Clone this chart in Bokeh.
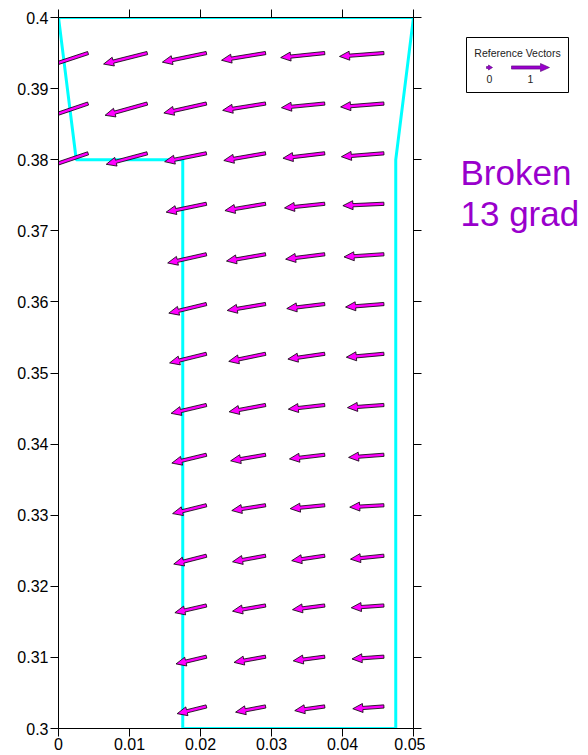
import math
from bokeh.plotting import figure
from bokeh.models import Range1d, FixedTicker, LinearAxis
from bokeh.layouts import row
from bokeh.embed import file_html
from bokeh.resources import INLINE
from bokeh.core.properties import value

# ---------------- data ----------------
x_ticks = [0.0, 0.01, 0.02, 0.03, 0.04, 0.05]
x_tick_labels = ["0", "0.01", "0.02", "0.03", "0.04", "0.05"]
y_ticks = [0.3, 0.31, 0.32, 0.33, 0.34, 0.35, 0.36, 0.37, 0.38, 0.39, 0.4]
y_tick_labels = ["0.3", "0.31", "0.32", "0.33", "0.34", "0.35", "0.36",
                 "0.37", "0.38", "0.39", "0.4"]

# domain boundary (cyan outline)
boundary_x = [0.0, 0.0025, 0.0175, 0.0175, 0.0475, 0.0475, 0.05, 0.0]
boundary_y = [0.4, 0.38, 0.38, 0.3, 0.3, 0.38, 0.4, 0.4]

# vector grid (tail positions)
col_x = [0.004167, 0.0125, 0.020833, 0.029167, 0.0375, 0.045833]
row_y = [0.3950, 0.3879, 0.3809, 0.3738, 0.3667, 0.3597, 0.3527,
         0.3455, 0.3385, 0.3314, 0.3243, 0.3173, 0.3101, 0.3031]

N = None
u_rows = [
    [-1.15, -1.15, -1.16, -1.16, -1.16, -1.17],
    [-1.12, -1.11, -1.12, -1.13, -1.14, -1.14],
    [-1.09, -1.08, -1.10, -1.10, -1.10, -1.12],
    [N, N, -1.06, -1.07, -1.06, -1.08],
    [N, N, -1.02, -1.03, -1.03, -1.05],
    [N, N, -0.99, -1.01, -1.00, -1.01],
    [N, N, -0.97, -0.97, -0.97, -0.99],
    [N, N, -0.93, -0.96, -0.96, -0.96],
    [N, N, -0.91, -0.92, -0.93, -0.93],
    [N, N, -0.89, -0.89, -0.91, -0.90],
    [N, N, -0.86, -0.87, -0.87, -0.88],
    [N, N, -0.83, -0.87, -0.85, -0.86],
    [N, N, -0.80, -0.83, -0.83, -0.84],
    [N, N, -0.77, -0.79, -0.79, -0.82],
]
v_rows = [
    [-0.38, -0.29, -0.24, -0.19, -0.12, -0.09],
    [-0.38, -0.31, -0.25, -0.18, -0.11, -0.09],
    [-0.37, -0.29, -0.22, -0.19, -0.13, -0.09],
    [N, N, -0.22, -0.18, -0.11, -0.05],
    [N, N, -0.23, -0.18, -0.13, -0.07],
    [N, N, -0.24, -0.17, -0.12, -0.08],
    [N, N, -0.24, -0.20, -0.14, -0.09],
    [N, N, -0.22, -0.18, -0.11, -0.07],
    [N, N, -0.22, -0.16, -0.11, -0.07],
    [N, N, -0.22, -0.14, -0.09, -0.05],
    [N, N, -0.22, -0.16, -0.13, -0.09],
    [N, N, -0.19, -0.15, -0.11, -0.06],
    [N, N, -0.19, -0.15, -0.11, -0.06],
    [N, N, -0.19, -0.15, -0.11, -0.06],
]

ref_vector_values = [0, 1]
ref_vector_labels = ["0", "1"]
legend_title = "Reference Vectors"
note_lines = ["Broken", "13 grad"]

vector_scale = 0.00535   # x data units per velocity unit

# ---------------- layout / style ----------------
FRAME_W, FRAME_H = 355, 711
B_L, B_R, B_T, B_B = 58, 12, 17, 27
W1 = B_L + FRAME_W + B_R
H = B_T + FRAME_H + B_B
W2 = 588 - W1

FONT = "Liberation Sans"
CYAN = "#00ffff"
MAGENTA = "#ff00ff"
PURPLE = "#9900cc"

x0r, x1r = 0.0, 0.05
y0r, y1r = 0.3, 0.4
sx = FRAME_W / (x1r - x0r)
sy = FRAME_H / (y1r - y0r)
L = vector_scale * sx   # px per velocity unit


def arrow_px(X0, Y0, dx, dy, shaft=1.6, head_len=10.0, head_half=4.5):
    ln = math.hypot(dx, dy)
    ux, uy = dx / ln, dy / ln
    nx, ny = -uy, ux
    tx, ty = X0 + dx, Y0 + dy
    bx, by = tx - ux * head_len, ty - uy * head_len
    pts = [(X0 + nx * shaft, Y0 + ny * shaft),
           (bx + nx * shaft, by + ny * shaft),
           (bx + nx * head_half, by + ny * head_half),
           (tx, ty),
           (bx - nx * head_half, by - ny * head_half),
           (bx - nx * shaft, by - ny * shaft),
           (X0 - nx * shaft, Y0 - ny * shaft)]
    return [q[0] for q in pts], [q[1] for q in pts]


p = figure(width=W1, height=H,
           x_range=Range1d(x0r, x1r), y_range=Range1d(y0r, y1r),
           output_backend="svg", toolbar_location=None,
           x_axis_location=None, y_axis_location=None,
           min_border_left=B_L, min_border_right=B_R,
           min_border_top=B_T, min_border_bottom=B_B)
p.grid.visible = False
p.outline_line_color = None
p.background_fill_color = "white"
p.border_fill_color = "white"


def style_axis(ax, ticks, labels, show):
    ax.ticker = FixedTicker(ticks=ticks, minor_ticks=[])
    ax.major_label_overrides = {t: (lab if show else "") for t, lab in zip(ticks, labels)}
    ax.major_tick_out = 8
    ax.major_tick_in = 0
    ax.minor_tick_out = 0
    ax.minor_tick_in = 0
    ax.axis_line_color = "black"
    ax.axis_line_width = 1
    ax.major_tick_line_color = "black"
    ax.major_label_text_font = FONT
    ax.major_label_text_color = "black"
    ax.major_label_text_font_size = "16px" if show else "0px"
    ax.major_label_standoff = 2 if show else 0


ax_b = LinearAxis(); style_axis(ax_b, x_ticks, x_tick_labels, True)
ax_t = LinearAxis(); style_axis(ax_t, x_ticks, x_tick_labels, False)
ax_l = LinearAxis(); style_axis(ax_l, y_ticks, y_tick_labels, True)
ax_r = LinearAxis(); style_axis(ax_r, y_ticks, y_tick_labels, False)
ax_b.major_label_standoff = 1
p.add_layout(ax_b, "below")
p.add_layout(ax_t, "above")
p.add_layout(ax_l, "left")
p.add_layout(ax_r, "right")

# boundary
p.line(boundary_x, boundary_y, line_color=CYAN, line_width=3)

# vectors
xs, ys = [], []
for j, yy in enumerate(row_y):
    for i, xx in enumerate(col_x):
        u = u_rows[j][i]
        v = v_rows[j][i]
        if u is None:
            continue
        px, py = arrow_px(xx * sx, yy * sy, u * L, v * L)
        xs.append([a / sx for a in px])
        ys.append([b / sy for b in py])
p.patches(xs, ys, fill_color=MAGENTA, line_color="black", line_width=0.8)

# ---------------- side panel (reference vectors + note) ----------------
# its frame shares the main plot's top/bottom borders; y range in page pixels
p2 = figure(width=W2, height=H, x_range=Range1d(0, W2),
            y_range=Range1d(B_T + FRAME_H, B_T),
            output_backend="svg", toolbar_location=None,
            x_axis_location=None, y_axis_location=None,
            min_border_left=0, min_border_right=0,
            min_border_top=B_T, min_border_bottom=B_B)
p2.grid.visible = False
p2.outline_line_color = None
p2.background_fill_color = "white"
p2.border_fill_color = "white"

p2.quad(left=[41], right=[143], top=[37], bottom=[92],
        fill_color=None, line_color="black", line_width=1)
p2.text(x=[92], y=[52], text=[legend_title], text_font=value(FONT),
        text_font_size="10.5px", text_align="center", text_baseline="middle",
        text_color="#222222")

# reference vectors
ref_tail_x = [61, 86]
lx, ly, label_x = [], [], []
for k, mag in enumerate(ref_vector_values):
    if mag == 0:
        ax_, ay_ = arrow_px(ref_tail_x[k], 67, 6, 0, shaft=1.0, head_len=4, head_half=2.5)
        label_x.append(ref_tail_x[k] + 3)
    else:
        ax_, ay_ = arrow_px(ref_tail_x[k], 67, mag * L, 0, shaft=1.6, head_len=9, head_half=4)
        label_x.append(ref_tail_x[k] + mag * L / 2)
    lx.append(ax_)
    ly.append(ay_)
p2.patches(lx, ly, fill_color=PURPLE, line_color="#550077", line_width=0.6)
p2.text(x=label_x, y=[78, 78], text=ref_vector_labels, text_font=value(FONT),
        text_font_size="10.5px", text_align="center", text_baseline="middle",
        text_color="#222222")

p2.text(x=[35, 35], y=[172, 213], text=note_lines, text_font=value(FONT),
        text_font_size="35px", text_align="left", text_baseline="alphabetic",
        text_color=PURPLE)

layout = row(p, p2)
open("out.html", "w").write(file_html(layout, INLINE))
